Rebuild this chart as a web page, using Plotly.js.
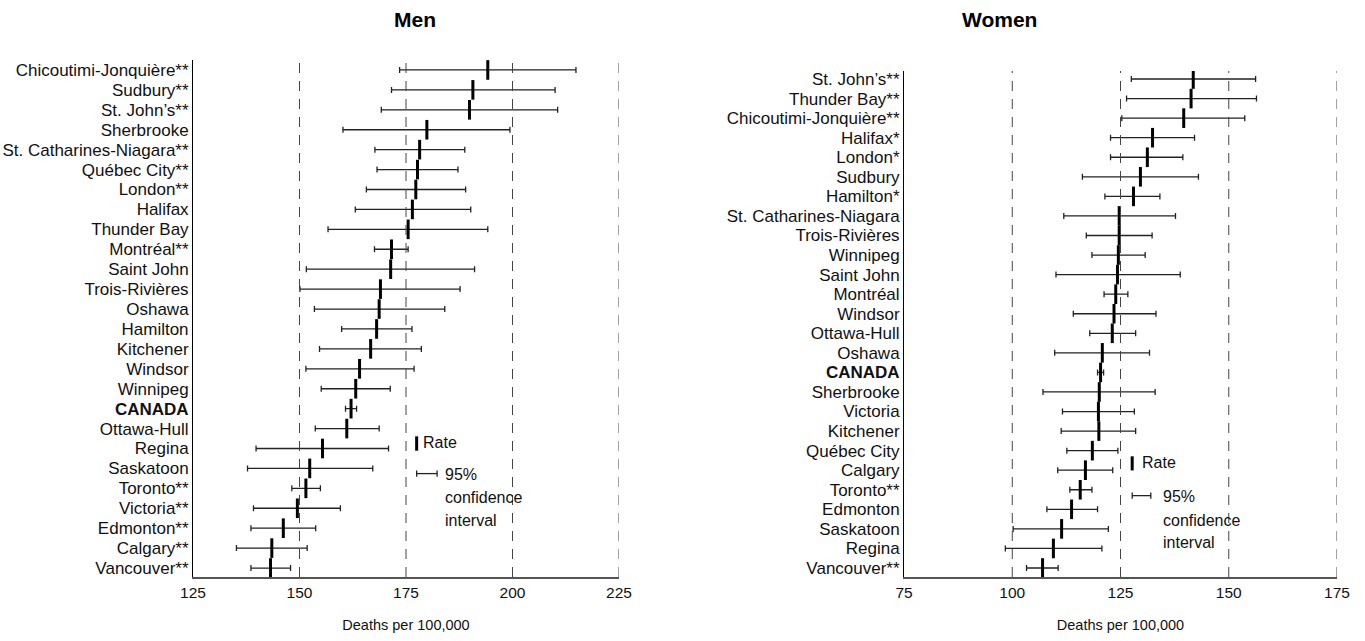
<!DOCTYPE html>
<html>
<head>
<meta charset="utf-8">
<script src="https://cdn.plot.ly/plotly-3.0.1.min.js"></script>
<style>html,body{margin:0;padding:0;background:#fff;}#chart{width:1365px;height:641px;}</style>
</head>
<body>
<div id="chart"></div>
<script>
// ---- Data ----
const menCities = ["Chicoutimi-Jonquière**","Sudbury**","St. John’s**","Sherbrooke","St. Catharines-Niagara**","Québec City**","London**","Halifax","Thunder Bay","Montréal**","Saint John","Trois-Rivières","Oshawa","Hamilton","Kitchener","Windsor","Winnipeg","CANADA","Ottawa-Hull","Regina","Saskatoon","Toronto**","Victoria**","Edmonton**","Calgary**","Vancouver**"];
const menRate = [194.2,190.7,189.9,179.9,178.2,177.7,177.3,176.5,175.5,171.6,171.4,169.0,168.7,168.1,166.7,164.1,163.2,162.1,161.1,155.4,152.4,151.5,149.5,146.2,143.5,143.2];
const menLow  = [173.5,171.6,169.2,160.2,167.7,168.2,165.7,163.1,156.7,167.6,151.6,150.1,153.5,159.9,154.7,151.5,155.1,160.8,153.7,139.8,137.8,148.2,139.2,138.6,135.2,138.6];
const menHigh = [214.9,210.0,210.6,199.4,188.8,187.2,189.0,190.2,194.2,175.5,191.1,187.7,184.1,176.4,178.6,176.9,171.3,163.4,168.7,170.9,167.2,154.9,159.6,153.8,151.8,147.9];

const womenCities = ["St. John’s**","Thunder Bay**","Chicoutimi-Jonquière**","Halifax*","London*","Sudbury","Hamilton*","St. Catharines-Niagara","Trois-Rivières","Winnipeg","Saint John","Montréal","Windsor","Ottawa-Hull","Oshawa","CANADA","Sherbrooke","Victoria","Kitchener","Québec City","Calgary","Toronto**","Edmonton","Saskatoon","Regina","Vancouver**"];
const womenRate = [141.8,141.3,139.6,132.4,131.2,129.6,128.0,124.7,124.7,124.5,124.3,123.9,123.5,123.1,120.8,120.4,120.1,119.9,120.0,118.5,116.9,115.7,113.7,111.4,109.5,107.0];
const womenLow  = [127.5,126.4,125.3,122.7,122.7,116.2,121.4,111.9,117.1,118.4,110.1,121.2,114.1,117.9,109.8,119.7,107.1,111.6,111.3,112.6,110.5,113.3,108.0,100.2,98.4,103.3];
const womenHigh = [156.2,156.4,153.7,142.1,139.4,143.0,134.1,137.7,132.3,130.7,138.8,126.7,133.2,128.5,131.7,121.1,133.0,128.2,128.5,124.4,123.2,118.4,119.7,122.2,120.7,110.6];

const menTicks = [125,150,175,200,225];
const womenTicks = [75,100,125,150,175];
const menGrid = [150,175,200,225];
const womenGrid = [100,125,150,175];

// ---- Style ----
const FONT = "'Liberation Sans', Arial, sans-serif";
const W = 1365, H = 641;
const px = v => v / W, py = v => 1 - v / H;

function tickText(arr){ return arr.map(c => c === "CANADA" ? "<b>CANADA</b>" : c); }

function makeTrace(cities, rate, low, high, xa, ya){
  return {
    type: 'scatter', mode: 'markers', xaxis: xa, yaxis: ya,
    x: rate, y: cities,
    marker: {symbol: 'line-ns', size: 14, color: '#000', line: {color: '#000', width: 3}},
    error_x: {type: 'data', symmetric: false,
      array: high.map((h,i) => h - rate[i]),
      arrayminus: low.map((l,i) => rate[i] - l),
      color: '#222', thickness: 1.3, width: 3},
    hoverinfo: 'x+y'
  };
}

const data = [
  makeTrace(menCities, menRate, menLow, menHigh, 'x', 'y'),
  makeTrace(womenCities, womenRate, womenLow, womenHigh, 'x2', 'y2')
];

function xAxis(ticks, domain, anchor){
  return {
    domain: domain, anchor: anchor, range: [ticks[0], ticks[ticks.length-1]],
    tickmode: 'array', tickvals: ticks, ticktext: ticks.map(String),
    showgrid: false, zeroline: false, showline: true, linecolor: '#555', linewidth: 2,
    ticks: '', tickfont: {family: FONT, size: 15.5, color: '#111'},
    title: {text: 'Deaths per 100,000', font: {family: FONT, size: 14.5, color: '#111'}, standoff: 20},
    fixedrange: true
  };
}
function yAxis(cities, domain, anchor, range){
  return {
    domain: domain, anchor: anchor, type: 'category',
    categoryorder: 'array', categoryarray: cities,
    tickmode: 'array', tickvals: cities, ticktext: tickText(cities),
    range: range, showgrid: false, zeroline: false,
    showline: true, linecolor: '#000', linewidth: 1,
    ticks: '', tickfont: {family: FONT, size: 17, color: '#111'},
    fixedrange: true
  };
}

const shapes = [];
menGrid.forEach(v => shapes.push({type:'line', xref:'x', yref:'y domain', x0:v, x1:v, y0:0, y1:1,
  line:{color:'#444', width:1, dash:'10px,8px'}}));
womenGrid.forEach(v => shapes.push({type:'line', xref:'x2', yref:'y2 domain', x0:v, x1:v, y0:0, y1:1,
  line:{color:'#444', width:1, dash:'10px,8px'}}));

// legend keys
function legendKey(xr, yr, rx, ry, c0, c1, cy){
  shapes.push({type:'line', xref:xr, yref:yr, x0:rx, x1:rx, y0:ry-0.36, y1:ry+0.36, line:{color:'#000', width:3}});
  shapes.push({type:'line', xref:xr, yref:yr, x0:c0, x1:c1, y0:cy, y1:cy, line:{color:'#222', width:1.3}});
  shapes.push({type:'line', xref:xr, yref:yr, x0:c0, x1:c0, y0:cy-0.16, y1:cy+0.16, line:{color:'#222', width:1.3}});
  shapes.push({type:'line', xref:xr, yref:yr, x0:c1, x1:c1, y0:cy-0.16, y1:cy+0.16, line:{color:'#222', width:1.3}});
}
legendKey('x','y',177.5,18.75,177.5,182.3,20.26);
legendKey('x2','y2',127.7,19.65,127.7,132.0,21.3);

const lf = {family: FONT, size: 16, color: '#111'};
function txt(xr, yr, x, y, t){ return {xref:xr, yref:yr, x:x, y:y, text:t, showarrow:false, xanchor:'left', yanchor:'middle', font:lf}; }

const annotations = [
  {xref:'paper', yref:'paper', x:px(415), y:py(20), text:'<b>Men</b>', showarrow:false, xanchor:'center', yanchor:'middle', font:{family:FONT, size:21, color:'#000'}},
  {xref:'paper', yref:'paper', x:px(1000), y:py(20), text:'<b>Women</b>', showarrow:false, xanchor:'center', yanchor:'middle', font:{family:FONT, size:21, color:'#000'}},
  txt('x','y',178.6,18.7,'Rate'),
  txt('x','y',183.6,20.3,'95%'),
  txt('x','y',183.6,21.45,'confidence'),
  txt('x','y',183.6,22.6,'interval'),
  txt('x2','y2',129.4,19.6,'Rate'),
  txt('x2','y2',134.3,21.35,'95%'),
  txt('x2','y2',134.3,22.55,'confidence'),
  txt('x2','y2',134.3,23.7,'interval')
];

const layout = {
  width: W, height: H, margin: {l:0, r:0, t:0, b:0},
  paper_bgcolor: '#fff', plot_bgcolor: '#fff', showlegend: false,
  xaxis: xAxis(menTicks, [px(193), px(619)], 'y'),
  yaxis: yAxis(menCities, [1-577/H, 1-60/H], 'x', [25.45, -0.5]),
  xaxis2: xAxis(womenTicks, [px(904), px(1337)], 'y2'),
  yaxis2: yAxis(womenCities, [1-577/H, 1-71/H], 'x2', [25.46, -0.41]),
  shapes: shapes, annotations: annotations
};

Plotly.newPlot('chart', data, layout, {displayModeBar: false, staticPlot: true});
</script>
</body>
</html>
